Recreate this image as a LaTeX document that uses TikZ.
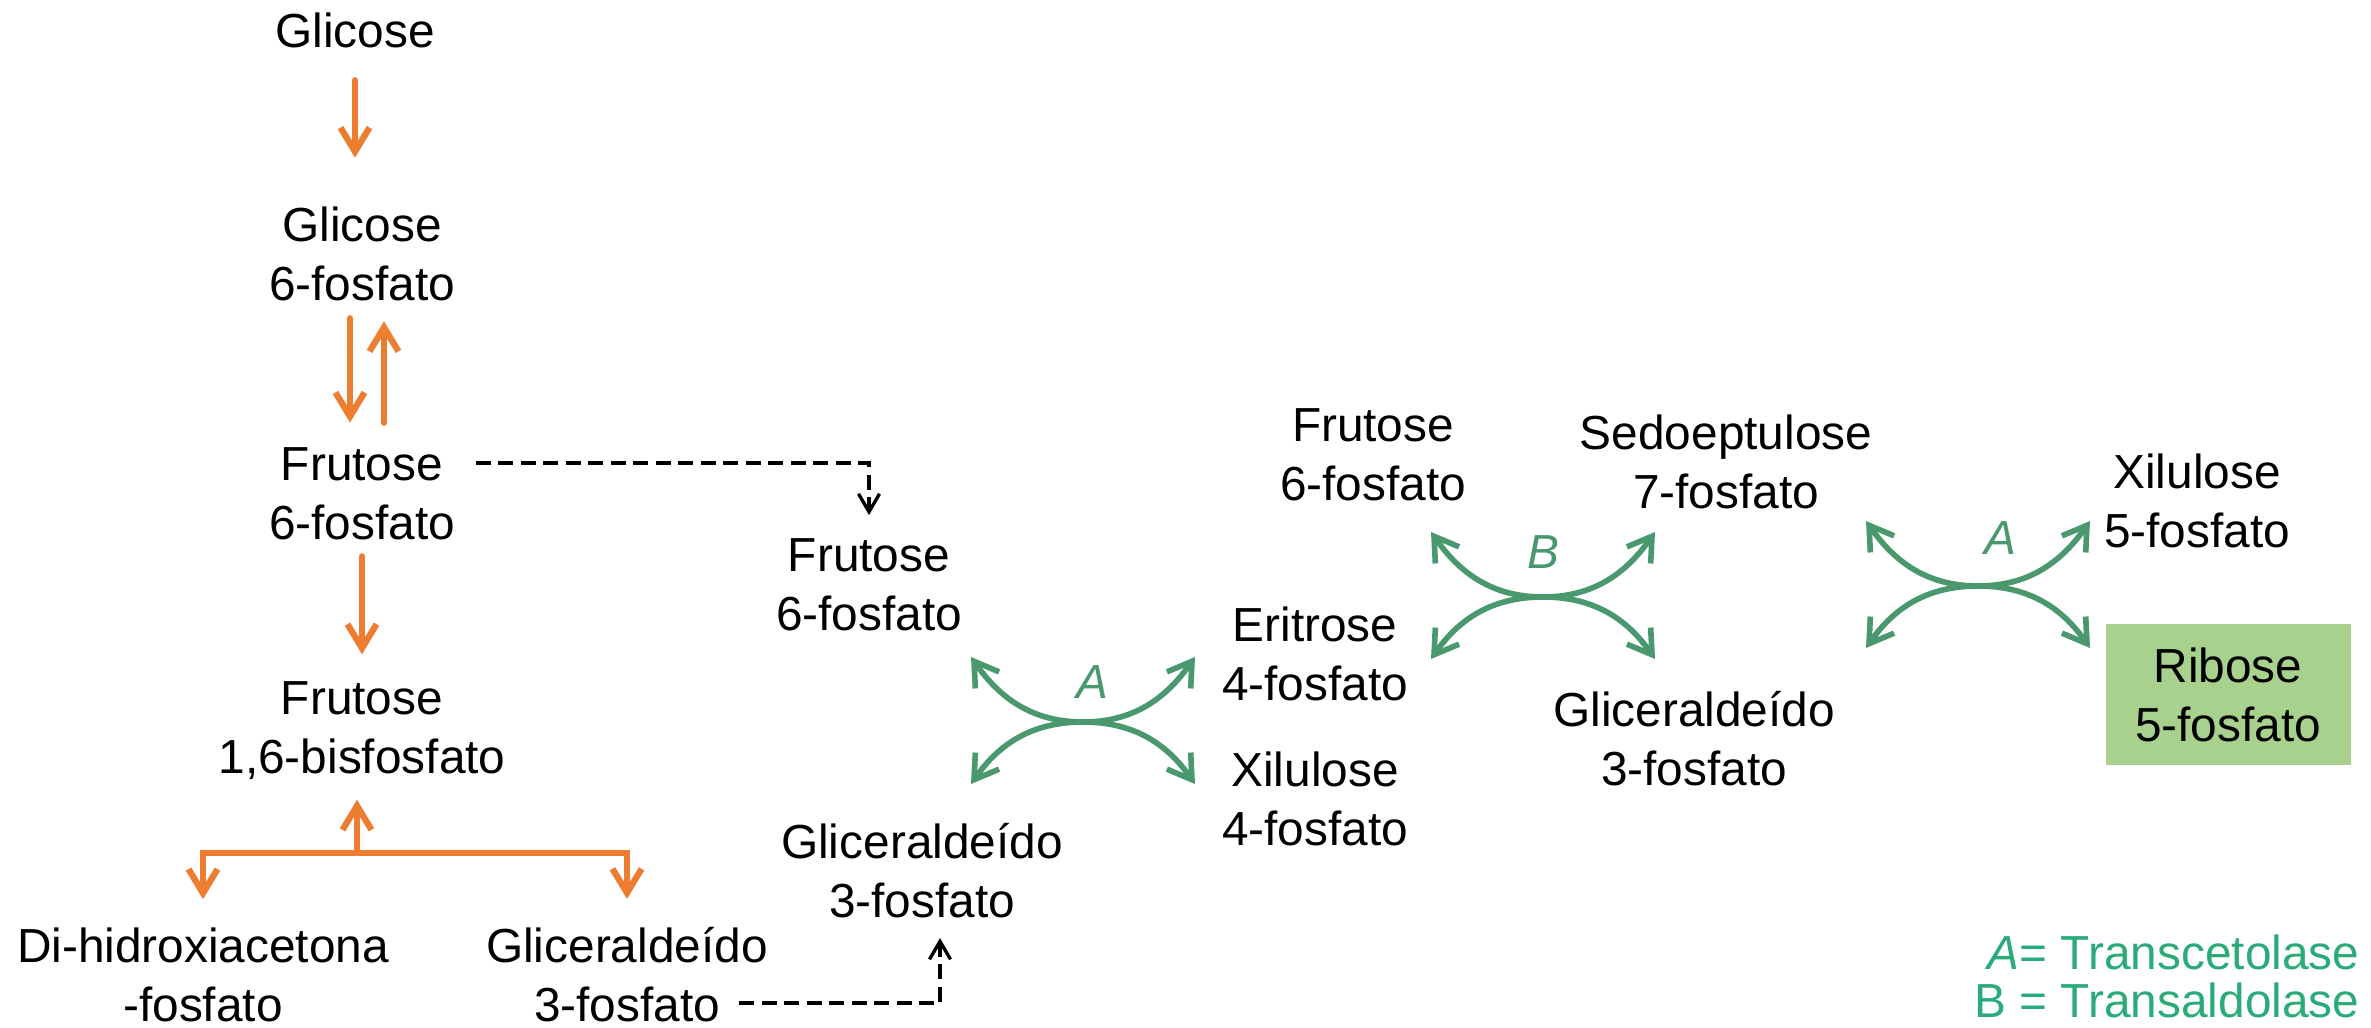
\documentclass[tikz,border=0pt]{standalone}
\usepackage{fontspec}
\setmainfont{Liberation Sans}
\usetikzlibrary{arrows.meta,positioning,calc}
\definecolor{pathorange}{RGB}{237,125,49}
\definecolor{enzgreen}{RGB}{74,152,110}
\definecolor{legendgreen}{RGB}{43,170,122}
\definecolor{ribosegreen}{RGB}{169,209,142}

\begin{document}
\begin{tikzpicture}[
    x=1cm, y=1cm,
    metab/.style={align=center, inner sep=0pt, font=\fontsize{13.6}{16.8}\selectfont},
    flow/.style={-{Straight Barb[length=2.4mm,width=2.9mm]}, line width=1.8pt, pathorange, line cap=round},
    shortcut/.style={-{Straight Barb[length=1.8mm,width=2.1mm]}, line width=0.95pt, dash pattern=on 1.5mm off 0.75mm},
    exch/.style={{Straight Barb[length=2.3mm,width=2.9mm]}-{Straight Barb[length=2.3mm,width=2.9mm]}, line width=1.6pt, enzgreen, line cap=round},
    enz/.style={font=\fontsize{13.6}{16}\selectfont\itshape, text=enzgreen, inner sep=0pt},
    exchange/.pic={
        \draw[exch] (-1.12,0.65) to[out=-55,in=180] (0,0) to[out=0,in=-125] (1.12,0.65);
        \draw[exch] (-1.12,-0.62) to[out=55,in=180] (0,0) to[out=0,in=125] (1.12,-0.62);
    }
]
\useasboundingbox (0,0) rectangle (23.71,10.27);

% Glycolysis (left column)
\node[metab] (glc)  at (3.55, 9.97)  {Glicose};
\node[metab] (g6p)  at (3.62, 7.735) {Glicose\\6-fosfato};
\node[metab] (f6p)  at (3.62, 5.335) {Frutose\\6-fosfato};
\node[metab] (fbp)  at (3.62, 2.96)  {Frutose\\1,6-bisfosfato};
\node[metab] (dhap) at (2.03, 0.52)  {Di-hidroxiacetona\\-fosfato};
\node[metab] (gapl) at (6.27, 0.52)  {Gliceraldeído\\3-fosfato};

\draw[flow] ([yshift=-0.32cm]glc.south) -- ([yshift=0.48cm]glc.south |- g6p.north);
\draw[flow] ([xshift=-0.12cm,yshift=-0.17cm]g6p.south) -- ([xshift=-0.12cm,yshift=0.24cm]f6p.north);
\draw[flow] ([xshift=0.22cm,yshift=0.24cm]f6p.north) -- ([xshift=0.22cm,yshift=-0.2cm]g6p.south);
\draw[flow] ([yshift=-0.16cm]f6p.south) -- ([yshift=0.27cm]fbp.north);

% aldolase split
\coordinate (split) at ([xshift=-0.05cm,yshift=-0.72cm]fbp.south);
\draw[flow] (split) -- ([yshift=-0.19cm]split |- fbp.south);
\draw[flow, {Straight Barb[length=2.4mm,width=2.9mm]}-{Straight Barb[length=2.4mm,width=2.9mm]}]
    ([yshift=0.28cm]dhap.north) |- (split) -| ([yshift=0.28cm]gapl.north);

% Pentose phosphate, non-oxidative branch
\node[metab] (f6pm) at (8.69, 4.42)  {Frutose\\6-fosfato};
\node[metab] (gapm) at (9.22, 1.56)  {Gliceraldeído\\3-fosfato};
\node[metab] (e4p)  at (13.15, 3.735) {Eritrose\\4-fosfato};
\node[metab] (x4p)  at (13.15, 2.285) {Xilulose\\4-fosfato};
\node[metab] (f6pr) at (13.73, 5.72)  {Frutose\\6-fosfato};
\node[metab] (s7p)  at (17.26, 5.65)  {Sedoeptulose\\7-fosfato};
\node[metab] (gapr) at (16.94, 2.88)  {Gliceraldeído\\3-fosfato};
\node[metab] (x5p)  at (21.97, 5.265) {Xilulose\\5-fosfato};
\node[metab, fill=ribosegreen, minimum width=2.45cm, minimum height=1.41cm]
    (r5p) at (22.28, 3.325) {Ribose\\5-fosfato};

% links between the two pathways
\draw[shortcut] ([shift={(0.2,0.305)}]f6p.east) -| ([yshift=0.23cm]f6pm.north);
\draw[shortcut] ([shift={(1.12,0.2)}]gapl.south) -| ([shift={(0.18,-0.19)}]gapm.south);

% enzyme exchanges
\coordinate (hubA1) at (10.83, 3.05);
\coordinate (hubB)  at (15.43, 4.30);
\coordinate (hubA2) at (19.78, 4.41);
\pic at (hubA1) {exchange};
\pic at (hubB)  {exchange};
\pic at (hubA2) {exchange};
\node[enz] (labA1) at (10.92, 3.45) {A};
\node[enz] (labB)  at (15.43, 4.75) {B};
\node[enz] (labA2) at (20.00, 4.89) {A};

% legend
\node[align=right, anchor=east, inner sep=0pt, text=legendgreen,
      font=\fontsize{13.6}{13.6}\selectfont] (legend) at (23.60, 0.505)
    {\textit{A}= Transcetolase\\B = Transaldolase};

\end{tikzpicture}
\end{document}
